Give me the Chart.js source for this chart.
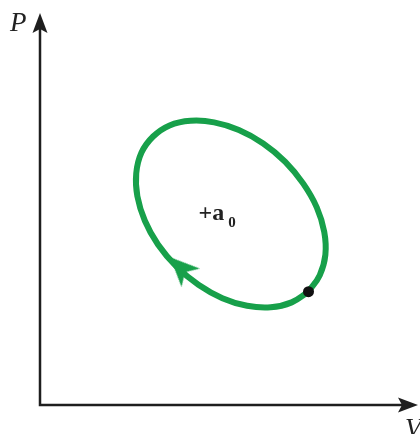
<!DOCTYPE html>
<html>
<head>
<meta charset="utf-8">
<script src="https://cdn.jsdelivr.net/npm/chart.js@4/dist/chart.umd.min.js"></script>
<style>
    html, body { margin: 0; padding: 0; background: #fff; }
    #wrap { width: 420px; height: 434px; position: relative; }
</style>
</head>
<body>
<div id="wrap"><canvas id="pv"></canvas></div>
<script>
// Cycle path (V, P in arbitrary units, 0..10)
const loopV = [7.17, 6.72, 6.16, 5.53, 4.87, 4.23, 3.64, 3.15, 2.80, 2.60, 2.57, 2.71,
               3.02, 3.46, 4.02, 4.65, 5.31, 5.96, 6.55, 7.03, 7.39, 7.59, 7.62, 7.47, 7.17];
const loopP = [2.96, 2.68, 2.55, 2.59, 2.79, 3.14, 3.62, 4.19, 4.81, 5.45, 6.05, 6.59,
               7.01, 7.30, 7.42, 7.38, 7.18, 6.83, 6.35, 5.78, 5.16, 4.52, 3.92, 3.39, 2.96];

// Starting state (black dot) and direction marker
const stateV = [7.17];
const stateP = [2.96];
const arrowV = [3.76];
const arrowP = [3.58];

const axisLabels = ['V', 'P'];
const centreLabel = ['+a', '0'];

const green = '#17a04a';
const ink = '#1e1e1e';

// Barbed arrowhead used as point style, pointing up before rotation
function makeArrowHead() {
    const c = document.createElement('canvas');
    c.width = 30;
    c.height = 30;
    const g = c.getContext('2d');
    g.fillStyle = green;
    g.beginPath();
    g.moveTo(15, 0);
    g.lineTo(28, 29);
    g.lineTo(15, 21);
    g.lineTo(2, 29);
    g.closePath();
    g.fill();
    return c;
}

const toPoints = (xs, ys) => xs.map((x, i) => ({ x: x, y: ys[i] }));

// Axes with arrows and the text labels
const axesPlugin = {
    id: 'axesPlugin',
    afterDraw(chart) {
        const ctx = chart.ctx;
        const sx = chart.scales.x;
        const sy = chart.scales.y;
        const x0 = sx.getPixelForValue(0);
        const y0 = sy.getPixelForValue(0);
        const xEnd = 418;
        const yEnd = 13;

        ctx.save();
        ctx.strokeStyle = ink;
        ctx.fillStyle = ink;
        ctx.lineWidth = 2.5;

        ctx.beginPath();
        ctx.moveTo(x0, y0);
        ctx.lineTo(x0, yEnd + 10);
        ctx.moveTo(x0 - 1.25, y0);
        ctx.lineTo(xEnd - 10, y0);
        ctx.stroke();

        // y arrow
        ctx.beginPath();
        ctx.moveTo(x0, yEnd);
        ctx.lineTo(x0 + 7.5, yEnd + 20);
        ctx.lineTo(x0, yEnd + 16);
        ctx.lineTo(x0 - 7.5, yEnd + 20);
        ctx.closePath();
        ctx.fill();

        // x arrow
        ctx.beginPath();
        ctx.moveTo(xEnd, y0);
        ctx.lineTo(xEnd - 20, y0 - 7.5);
        ctx.lineTo(xEnd - 16, y0);
        ctx.lineTo(xEnd - 20, y0 + 7.5);
        ctx.closePath();
        ctx.fill();

        ctx.fillStyle = '#222';
        ctx.font = 'italic 27px "Liberation Serif", "Times New Roman", serif';
        ctx.textBaseline = 'alphabetic';
        ctx.textAlign = 'left';
        ctx.fillText(axisLabels[1], 10, 31);
        ctx.fillText(axisLabels[0], 405, 437);

        // centre label
        const cx = sx.getPixelForValue(4.6);
        const cy = sy.getPixelForValue(4.97);
        ctx.font = 'bold 24px "Liberation Serif", "Times New Roman", serif';
        ctx.textAlign = 'right';
        ctx.fillText(centreLabel[0], cx + 12, cy + 5);
        ctx.font = 'bold 15px "Liberation Serif", "Times New Roman", serif';
        ctx.textAlign = 'left';
        ctx.fillText(centreLabel[1], cx + 16, cy + 12);
        ctx.restore();
    }
};

new Chart(document.getElementById('pv'), {
    type: 'scatter',
    data: {
        datasets: [
            {
                label: 'cycle',
                data: toPoints(loopV, loopP),
                showLine: true,
                borderColor: green,
                borderWidth: 6,
                tension: 0.4,
                pointRadius: 0,
                borderCapStyle: 'round',
                borderJoinStyle: 'round',
                order: 3
            },
            {
                label: 'direction',
                data: toPoints(arrowV, arrowP),
                pointStyle: makeArrowHead(),
                rotation: -45,
                order: 2
            },
            {
                label: 'state',
                data: toPoints(stateV, stateP),
                pointRadius: 5.5,
                backgroundColor: '#111',
                borderColor: '#111',
                borderWidth: 0,
                order: 1
            }
        ]
    },
    options: {
        responsive: true,
        maintainAspectRatio: false,
        animation: false,
        events: [],
        layout: {
            padding: { left: 40, right: 4, top: 22, bottom: 29 }
        },
        plugins: {
            legend: { display: false },
            tooltip: { enabled: false }
        },
        scales: {
            x: { type: 'linear', min: 0, max: 10, display: false },
            y: { type: 'linear', min: 0, max: 10, display: false }
        }
    },
    plugins: [axesPlugin]
});
</script>
</body>
</html>
